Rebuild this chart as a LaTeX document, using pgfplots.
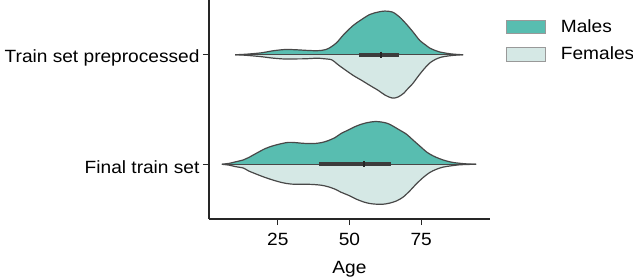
\documentclass[border=0pt]{standalone}
\usepackage{fontspec}
\setmainfont{Liberation Sans}[FakeStretch=1.08]
\usepackage{pgfplots}
\usepackage{pgfplotstable}
\pgfplotsset{compat=1.18}

\definecolor{male}{HTML}{58BDB0}
\definecolor{female}{HTML}{D5E8E5}
\definecolor{edge}{HTML}{484848}
\definecolor{boxc}{HTML}{3C3C3C}
\definecolor{spine}{HTML}{262626}
\newcommand\chartfont{\fontsize{17.7}{21}\selectfont}

% Kernel density half-widths (in category units) along Age
% Train set preprocessed (category 0)
\pgfplotstableread{
x w
10.1 0
14 0.005
19.4 0.018
23 0.035
27.5 0.048
31 0.046
35 0.040
38 0.037
40 0.039
41.5 0.046
43 0.062
45.5 0.11
48 0.185
51.3 0.268
54 0.318
57.1 0.368
60 0.39
62.3 0.399
65 0.39
67.5 0.344
70 0.275
72.2 0.207
74.5 0.131
76.5 0.09
78 0.061
80 0.038
81.5 0.025
85 0.009
87.5 0.003
89.6 0
}\preMales
\pgfplotstableread{
x w
10.1 0
14 0.005
19.4 0.018
23 0.030
27.5 0.039
31 0.038
34.5 0.037
39 0.031
41 0.036
43.8 0.046
45.5 0.08
47 0.11
51.3 0.189
54 0.23
57.1 0.28
60 0.325
62.5 0.37
65 0.396
67 0.385
69 0.35
70 0.32
72 0.265
74 0.195
76 0.13
78 0.075
80 0.042
82 0.022
85 0.009
87.5 0.003
89.6 0
}\preFemales
% Final train set (category 1)
\pgfplotstableread{
x w
5.5 0
8 0.008
10.1 0.021
13 0.04
14.8 0.061
17.5 0.1
20.6 0.143
23.5 0.17
26.4 0.189
28.7 0.2
31 0.198
33 0.193
35.6 0.189
38 0.19
40.3 0.198
42.5 0.215
45 0.244
47 0.28
49.6 0.313
52.5 0.35
55.5 0.376
58.9 0.39
62 0.382
64 0.365
67 0.32
69.9 0.274
72.2 0.22
74.5 0.167
77 0.11
79.2 0.076
81.5 0.05
83.8 0.03
86 0.017
88.4 0.009
91 0.003
94.2 0
}\finMales
\pgfplotstableread{
x w
5.5 0
8 0.008
10.1 0.021
13 0.035
14.8 0.061
17.5 0.09
20.6 0.121
23.5 0.146
26.4 0.167
28.7 0.178
31 0.183
35.6 0.183
38 0.186
40.3 0.192
42.5 0.205
45 0.228
47 0.255
49.6 0.283
52.5 0.32
55 0.345
57.2 0.359
59.5 0.365
61.7 0.365
64 0.355
66.4 0.335
68.7 0.3
71 0.244
73.3 0.18
75.7 0.121
78 0.075
80.3 0.046
82.5 0.027
85 0.016
88 0.006
91 0.002
94.2 0
}\finFemales

\begin{document}
\begin{tikzpicture}
\begin{axis}[
  at={(209pt,60pt)}, anchor=south west,
  scale only axis, width=281pt, height=219pt,
  xmin=1, xmax=99, ymin=-0.5, ymax=1.5,
  y dir=reverse,
  axis x line=bottom, axis y line=left,
  axis line style={-, draw=spine, line width=1.1pt},
  every tick/.style={draw=spine, line width=1.1pt},
  tick align=outside, major tick length=6pt,
  xtick={25,50,75},
  ytick={0,1},
  yticklabels={Train set preprocessed, Final train set},
  /pgf/number format/assume math mode=true,
  tick label style={font=\chartfont, text=black},
  xticklabel style={yshift=-5pt},
  yticklabel style={yshift=-3pt},
  xlabel={Age},
  label style={font=\chartfont, text=black},
  xlabel style={at={(axis description cs:0.5,-0.248)}, anchor=base},
  legend style={at={(1.057,0.912)}, anchor=north west, draw=none, fill=none,
    inner sep=0pt, font=\chartfont, cells={anchor=west},
    nodes={inner sep=0pt},
    /tikz/every odd column/.append style={column sep=15.7pt},
    row sep=13.3pt},
  legend image code/.code={\draw[#1] (0pt,-6.7pt) rectangle (38.3pt,6.7pt);},
]
% lower halves (Females)
\addplot[draw=edge, fill=female, line width=1.2pt, smooth, forget plot]
  table[x=x, y expr=0+\thisrow{w}] {\preFemales};
\addplot[draw=edge, fill=female, line width=1.2pt, smooth, forget plot]
  table[x=x, y expr=1+\thisrow{w}] {\finFemales};
% upper halves (Males)
\addplot[draw=edge, fill=male, line width=1.2pt, smooth, forget plot]
  table[x=x, y expr=0-\thisrow{w}] {\preMales};
\addplot[draw=edge, fill=male, line width=1.2pt, smooth, forget plot]
  table[x=x, y expr=1-\thisrow{w}] {\finMales};
% split lines
\addplot[edge, line width=1.2pt, forget plot] coordinates {(10.1,0) (89.6,0)};
\addplot[edge, line width=1.2pt, forget plot] coordinates {(5.5,1) (94.2,1)};
% interquartile bars
\addplot[boxc, line width=4.3pt, forget plot] coordinates {(53.4,0) (67.4,0)};
\addplot[boxc, line width=4.3pt, forget plot] coordinates {(39.5,1) (64.4,1)};
% medians
\addplot[only marks, mark=|, mark size=3.2pt, mark options={line width=1.8pt, draw=black!85}, forget plot]
  coordinates {(61,0) (55,1)};
\addlegendimage{draw=gray!80, fill=male, line width=0.7pt}
\addlegendentry{Males}
\addlegendimage{draw=gray!80, fill=female, line width=0.7pt}
\addlegendentry{Females}
\end{axis}
\pgfresetboundingbox
\path[use as bounding box] (0,0) rectangle (633pt,279pt);
\end{tikzpicture}
\end{document}
